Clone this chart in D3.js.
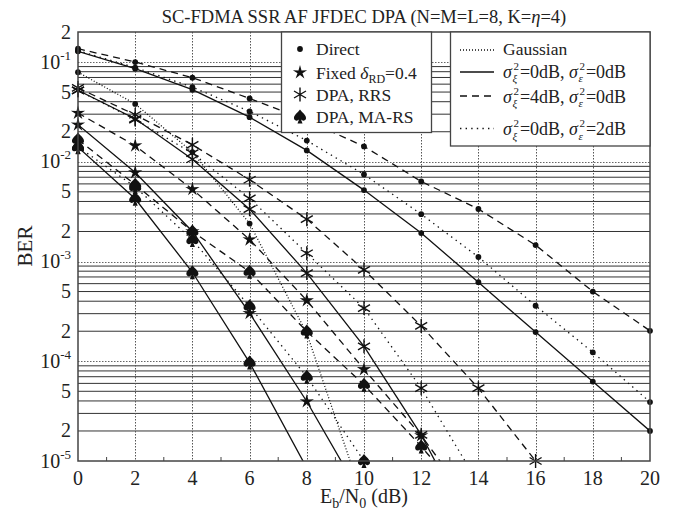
<!DOCTYPE html>
<html>
<head>
<meta charset="utf-8">
<script src="https://cdn.jsdelivr.net/npm/d3@7"></script>
<style>
body { margin: 0; background: #fff; }
text { font-family: "Liberation Serif", "DejaVu Serif", serif; fill: #222; white-space: pre; }
</style>
</head>
<body>
<script>
// Eb/N0 points (dB)
var ebno = [0, 2, 4, 6, 8, 10, 12, 14, 16, 18, 20];

// direct link
var directSolid  = [0.128, 0.0857, 0.0528, 0.028, 0.013, 0.0052, 0.00193, 0.00062, 0.000196, 0.0000625, 0.00002];
var directDashed = [0.136, 0.1, 0.0697, 0.0431, 0.026, 0.01426, 0.00635, 0.00336, 0.00146, 0.0005, 0.000202];
var directDotted = [0.13, 0.088, 0.056, 0.032, 0.0163, 0.00746, 0.00298, 0.00111, 0.00036, 0.000123, 0.000039];
var gaussian     = [0.079, 0.038, 0.0125, 0.0024, 0.00019, 0.0000039];

// fixed delta_RD = 0.4
var fixedSolid  = [0.0235, 0.0078, 0.002, 0.000303, 0.0000395, 0.000004];
var fixedDashed = [0.0308, 0.0145, 0.0053, 0.00166, 0.000407, 0.000083, 0.000018, 0.000003];

// DPA, RRS
var rrsSolid  = [0.052, 0.027, 0.0106, 0.00335, 0.000765, 0.000141, 0.0000183, 0.0000015];
var rrsDashed = [0.055, 0.0296, 0.0148, 0.0066, 0.00266, 0.000826, 0.000226, 0.0000537, 0.00001];
var rrsDotted = [0.052, 0.0265, 0.0122, 0.0043, 0.00121, 0.000341, 0.0000537, 0.000006];

// DPA, MA-RS
var marsSolid  = [0.014, 0.00426, 0.00078, 0.000097, 0.0000085];
var marsDashed = [0.0167, 0.0059, 0.002, 0.00079, 0.000199, 0.000058, 0.000014, 0.000003];
var marsDotted = [0.0141, 0.0056, 0.00164, 0.000355, 0.00007, 0.00001];

var yTicks = [0.2, 0.1, 0.05, 0.02, 0.01, 0.005, 0.002, 0.001, 0.0005, 0.0002, 0.0001, 0.00005, 0.00002, 0.00001];

var width = 676,
    height = 514;

var svg = d3.select("body").append("svg")
    .attr("width", width)
    .attr("height", height);

var x = d3.scaleLinear().domain([0, 20]).range([78, 650]);
var y = d3.scaleLog().domain([1e-5, 0.2]).range([461, 32]);

svg.append("defs").append("clipPath").attr("id", "plot")
  .append("rect")
    .attr("x", x(0)).attr("y", y(0.2))
    .attr("width", x(20) - x(0)).attr("height", y(1e-5) - y(0.2));

// grid
var grid = svg.append("g");
var minor = [];
[-5, -4, -3, -2].forEach(function(d) {
  for (var k = 2; k <= 9; k++) minor.push(k * Math.pow(10, d));
});
grid.selectAll(".minor").data(minor).enter().append("line")
    .attr("x1", x(0)).attr("x2", x(20))
    .attr("y1", function(d) { return y(d); })
    .attr("y2", function(d) { return y(d); })
    .attr("stroke", "#333").attr("stroke-width", 1);
grid.selectAll(".dec").data([1e-1, 1e-2, 1e-3, 1e-4]).enter().append("line")
    .attr("x1", x(0)).attr("x2", x(20))
    .attr("y1", function(d) { return Math.round(y(d)) + 0.5; })
    .attr("y2", function(d) { return Math.round(y(d)) + 0.5; })
    .attr("stroke", "#666").attr("stroke-dasharray", "1.5,1.5");
grid.selectAll(".vx").data(d3.range(2, 20, 2)).enter().append("line")
    .attr("x1", function(d) { return Math.round(x(d)) + 0.5; })
    .attr("x2", function(d) { return Math.round(x(d)) + 0.5; })
    .attr("y1", y(0.2)).attr("y2", y(1e-5))
    .attr("stroke", "#555").attr("stroke-dasharray", "1.5,1.5");
// odd minor ticks
grid.selectAll(".mt").data(d3.range(1, 20, 2)).enter().append("line")
    .attr("x1", function(d) { return x(d); })
    .attr("x2", function(d) { return x(d); })
    .attr("y1", y(1e-5)).attr("y2", y(1e-5) - 4)
    .attr("stroke", "#444");

// curves
var series = [
  {v: directSolid,  dash: null,      mark: "dot"},
  {v: directDashed, dash: "7,5",     mark: "dot"},
  {v: directDotted, dash: "1.4,4.2", mark: "dot"},
  {v: gaussian,     dash: "1,2",     mark: "dot"},
  {v: fixedSolid,   dash: null,      mark: "star"},
  {v: fixedDashed,  dash: "7,5",     mark: "star"},
  {v: rrsSolid,     dash: null,      mark: "ast"},
  {v: rrsDashed,    dash: "7,5",     mark: "ast"},
  {v: rrsDotted,    dash: "1.4,4.2", mark: "ast"},
  {v: marsSolid,    dash: null,      mark: "spade"},
  {v: marsDashed,   dash: "7,5",     mark: "spade"},
  {v: marsDotted,   dash: "1.4,4.2", mark: "spade"}
];

var line = d3.line()
    .x(function(d, i) { return x(ebno[i]); })
    .y(function(d) { return y(d); });

var curves = svg.append("g").attr("clip-path", "url(#plot)");
curves.selectAll("path").data(series).enter().append("path")
    .attr("d", function(s) { return line(s.v); })
    .attr("fill", "none")
    .attr("stroke", "#111")
    .attr("stroke-width", 1.3)
    .attr("stroke-dasharray", function(s) { return s.dash; });

function starPath(R, r) {
  var p = [];
  for (var i = 0; i < 10; i++) {
    var a = -Math.PI / 2 + i * Math.PI / 5, rr = i % 2 ? r : R;
    p.push([rr * Math.cos(a), rr * Math.sin(a)]);
  }
  return "M" + p.join("L") + "Z";
}
var astPath = "M0,-7L0,7M-6,-3.5L6,3.5M-6,3.5L6,-3.5";
var spadePath = "M0,-7C2,-4 6.5,-1.5 6,2C5.5,4.5 2.5,4.8 1,3L2.5,7L-2.5,7L-1,3" +
                "C-2.5,4.8 -5.5,4.5 -6,2C-6.5,-1.5 -2,-4 0,-7Z";

function drawMark(g, type, cx, cy) {
  if (type === "dot") {
    g.append("circle").attr("cx", cx).attr("cy", cy).attr("r", 2.9).attr("fill", "#111");
  } else if (type === "star") {
    g.append("path").attr("transform", "translate(" + cx + "," + cy + ")")
        .attr("d", starPath(7.5, 2.6)).attr("fill", "#111");
  } else if (type === "ast") {
    g.append("path").attr("transform", "translate(" + cx + "," + cy + ")")
        .attr("d", astPath).attr("fill", "none").attr("stroke", "#111").attr("stroke-width", 1.4);
  } else {
    g.append("path").attr("transform", "translate(" + cx + "," + cy + ")")
        .attr("d", spadePath).attr("fill", "#111");
  }
}

var marks = svg.append("g");
series.forEach(function(s) {
  s.v.forEach(function(d, i) {
    if (d >= 0.99e-5) drawMark(marks, s.mark, x(ebno[i]), y(d));
  });
});

// frame
svg.append("rect")
    .attr("x", x(0)).attr("y", y(0.2))
    .attr("width", x(20) - x(0)).attr("height", y(1e-5) - y(0.2))
    .attr("fill", "none").attr("stroke", "#444").attr("stroke-width", 1.5);

// axis labels
svg.selectAll(".xt").data(d3.range(0, 21, 2)).enter().append("text")
    .attr("x", function(d) { return x(d); })
    .attr("y", 485)
    .attr("text-anchor", "middle")
    .style("font-size", "20px")
    .text(function(d) { return d; });

yTicks.forEach(function(v) {
  var e = Math.floor(Math.log10(v) + 1e-9), m = Math.round(v / Math.pow(10, e));
  var t = svg.append("text")
      .attr("x", 71)
      .attr("y", y(v) + 6.5)
      .attr("text-anchor", "end")
      .style("font-size", "20px");
  if (m === 1) {
    t.append("tspan").text("10");
    t.append("tspan").attr("dy", -9).style("font-size", "13px").text("-" + (-e));
  } else {
    t.text(m);
  }
});

svg.append("text")
    .attr("transform", "translate(32,246) rotate(-90)")
    .attr("text-anchor", "middle")
    .style("font-size", "21px")
    .text("BER");

var xl = svg.append("text").attr("x", 364).attr("y", 503)
    .attr("text-anchor", "middle").style("font-size", "20px");
xl.append("tspan").text("E");
xl.append("tspan").attr("dy", 5).style("font-size", "14px").text("b");
xl.append("tspan").attr("dy", -5).text("/N");
xl.append("tspan").attr("dy", 5).style("font-size", "14px").text("0");
xl.append("tspan").attr("dy", -5).text(" (dB)");

var title = svg.append("text").attr("x", 364).attr("y", 23)
    .attr("text-anchor", "middle").style("font-size", "18.5px");
title.append("tspan").text("SC-FDMA SSR AF JFDEC DPA (N=M=L=8, K=");
title.append("tspan").style("font-style", "italic").text("\u03b7");
title.append("tspan").text("=4)");

// legend 1: markers
var leg1 = svg.append("g");
leg1.append("rect").attr("x", 281.5).attr("y", 32).attr("width", 150).attr("height", 100.5)
    .attr("fill", "#fff").attr("stroke", "#444").attr("stroke-width", 1.3);
var leg1Items = [
  {mark: "dot", y: 49},
  {mark: "star", y: 72.5},
  {mark: "ast", y: 94.5},
  {mark: "spade", y: 116.5}
];
leg1Items.forEach(function(d) { drawMark(leg1, d.mark, 300, d.y); });
leg1.append("text").attr("x", 316).attr("y", 55).style("font-size", "17.5px").text("Direct");
var fx = leg1.append("text").attr("x", 316).attr("y", 78.5).style("font-size", "17.5px");
fx.append("tspan").text("Fixed ");
fx.append("tspan").style("font-style", "italic").text("\u03b4");
fx.append("tspan").attr("dy", 4).style("font-size", "12px").text("RD");
fx.append("tspan").attr("dy", -4).text("=0.4");
leg1.append("text").attr("x", 316).attr("y", 100.5).style("font-size", "17.5px").text("DPA, RRS");
leg1.append("text").attr("x", 316).attr("y", 122.5).style("font-size", "17.5px").text("DPA, MA-RS");

// legend 2: line styles
var leg2 = svg.append("g");
leg2.append("rect").attr("x", 450.5).attr("y", 32).attr("width", 199.5).attr("height", 114)
    .attr("fill", "#fff").attr("stroke", "#444").attr("stroke-width", 1.3);
var leg2Items = [
  {dash: "1,2", y: 50},
  {dash: null, y: 72},
  {dash: "7,5", y: 96},
  {dash: "1.4,4.2", y: 128.5}
];
leg2.selectAll("line").data(leg2Items).enter().append("line")
    .attr("x1", 460).attr("x2", 494)
    .attr("y1", function(d) { return d.y; })
    .attr("y2", function(d) { return d.y; })
    .attr("stroke", "#111").attr("stroke-width", 1.3)
    .attr("stroke-dasharray", function(d) { return d.dash; });
leg2.append("text").attr("x", 503).attr("y", 55).style("font-size", "17.5px").text("Gaussian");

// one text per row; sup/sub stacked with tspans at absolute positions
function rich(g, x0, yb, parts) {
  var t = g.append("text").style("font-size", "18px");
  var cx = x0;
  parts.forEach(function(p) {
    if (p.stack) {
      var a = t.append("tspan").attr("x", cx + 1.5).attr("y", yb - 8)
          .style("font-size", "11px").text(p.stack[0]);
      var b = t.append("tspan").attr("x", cx + 0.5).attr("y", yb + 4.5)
          .style("font-size", "11px").style("font-style", "italic").text(p.stack[1]);
      cx += Math.max(a.node().getComputedTextLength() + 2.5, b.node().getComputedTextLength() + 1.5);
    } else {
      var s = t.append("tspan").attr("x", cx).attr("y", yb).text(p.t);
      if (p.it) s.style("font-style", "italic");
      cx += s.node().getComputedTextLength();
    }
  });
}
var sigRows = [
  {y: 77.5, a: "0dB", b: "0dB"},
  {y: 102.5, a: "4dB", b: "0dB"},
  {y: 135, a: "0dB", b: "2dB"}
];
sigRows.forEach(function(r) {
  rich(leg2, 503, r.y, [
    {t: "\u03c3", it: true}, {stack: ["2", "\u03be"]}, {t: "=" + r.a + ", "},
    {t: "\u03c3", it: true}, {stack: ["2", "\u03b5"]}, {t: "=" + r.b}
  ]);
});
</script>
</body>
</html>
